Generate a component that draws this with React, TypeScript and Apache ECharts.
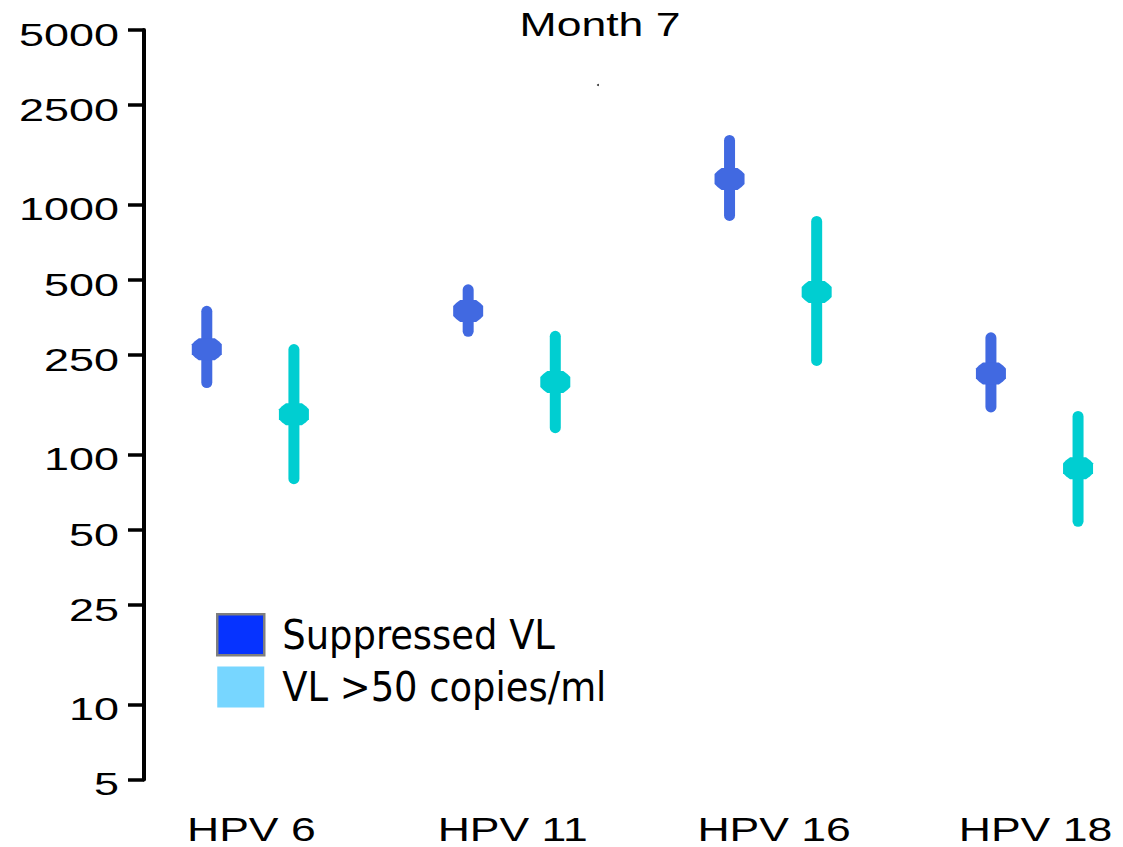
import React, { useEffect, useRef } from "react";
import * as echarts from "echarts";

const categories = ["HPV 6", "HPV 11", "HPV 16", "HPV 18"];
const yTickValues = [5, 10, 25, 50, 100, 250, 500, 1000, 2500, 5000];

const suppressedGMT = [264, 375, 1266, 211];
const suppressedLow = [194, 311, 905, 155];
const suppressedHigh = [374, 456, 1806, 293];

const viremicGMT = [145, 195, 447, 88];
const viremicLow = [80, 128, 238, 54];
const viremicHigh = [263, 297, 856, 142];

const seriesNames = ["Suppressed VL", "VL >50 copies/ml"];
const title = "Month 7";

const LOG = (v: number) => Math.log10(v);
const X_MIN = -0.4069;
const X_MAX = 3.3;
const Y_MIN = LOG(5);
const Y_MAX = LOG(5000);
const ARIAL = "'Liberation Sans', Arial, Helvetica, sans-serif";

function marker(cx: number, cy: number): number[][] {
  const p = [
    [-8, -11], [8, -11], [12, -8], [15, -5], [15, 5], [12, 8],
    [8, 11], [-8, 11], [-12, 8], [-15, 5], [-15, -5], [-12, -8],
  ];
  return p.map(([dx, dy]) => [cx + dx, cy + dy]);
}

function errorSeries(name: string, color: string, offset: number, gmt: number[], low: number[], high: number[]) {
  return {
    type: "custom",
    name,
    clip: false,
    itemStyle: { color },
    encode: { x: 0, y: [1, 2, 3] },
    data: categories.map((_, i) => [i, LOG(low[i]), LOG(high[i]), LOG(gmt[i])]),
    renderItem: (params: any, api: any) => {
      const i = api.value(0);
      const lo = api.coord([i + offset, api.value(1)]);
      const hi = api.coord([i + offset, api.value(2)]);
      const mid = api.coord([i + offset, api.value(3)]);
      return {
        type: "group",
        children: [
          {
            type: "line",
            shape: { x1: hi[0], y1: hi[1], x2: lo[0], y2: lo[1] },
            style: { stroke: color, lineWidth: 11, lineCap: "round" },
          },
          {
            type: "polygon",
            shape: { points: marker(mid[0], mid[1]) },
            style: { fill: color },
          },
        ],
      };
    },
  };
}

export default function App() {
  const ref = useRef<HTMLDivElement>(null);
  useEffect(() => {
    if (!ref.current) return;
    const chart = echarts.init(ref.current, null, { renderer: "svg" });
    const option: any = {
      animation: false,
      backgroundColor: "#ffffff",
      grid: { left: 144, right: 10.1, top: 30, bottom: 67.5 },
      xAxis: {
        type: "value",
        min: X_MIN,
        max: X_MAX,
        axisLine: { show: false, onZero: false },
        axisTick: { show: false },
        axisLabel: { show: false },
        splitLine: { show: false },
      },
      yAxis: {
        type: "value",
        min: Y_MIN,
        max: Y_MAX,
        axisLine: { show: true, onZero: false, lineStyle: { color: "#000", width: 4 } },
        axisTick: {
          show: true,
          customValues: yTickValues.map(LOG),
          length: 16,
          lineStyle: { color: "#000", width: 3.5 },
        },
        axisLabel: { show: false },
        splitLine: { show: false },
      },
      legend: {
        orient: "vertical",
        left: 211,
        top: 608,
        icon: "rect",
        itemWidth: 47,
        itemHeight: 41,
        itemGap: 10,
        selectedMode: false,
        textStyle: {
          fontSize: 41,
          fontFamily: "'DejaVu Sans Condensed', 'DejaVu Sans', sans-serif",
          color: "#000",
          padding: [0, 0, 0, 13],
        },
        data: [
          { name: seriesNames[0], itemStyle: { color: "#0633ff", borderColor: "#7f7f7f", borderWidth: 2.5 } },
          { name: seriesNames[1], itemStyle: { color: "#77d6ff", borderWidth: 0 } },
        ],
      },
      graphic: [
        {
          type: "text",
          x: 600,
          y: 25,
          scaleX: 1.35,
          style: {
            text: title,
            align: "center",
            verticalAlign: "middle",
            fontSize: 33,
            fontFamily: ARIAL,
            fill: "#000",
          },
        },
        { type: "circle", shape: { cx: 598, cy: 85, r: 1 }, style: { fill: "#333" } },
      ],
      series: [
        errorSeries(seriesNames[0], "#4169e1", -1 / 6, suppressedGMT, suppressedLow, suppressedHigh),
        errorSeries(seriesNames[1], "#00ced1", 1 / 6, viremicGMT, viremicLow, viremicHigh),
        {
          type: "custom",
          name: "yLabels",
          clip: false,
          silent: true,
          data: yTickValues.map((v) => [X_MIN, LOG(v), v]),
          encode: { x: 0, y: 1 },
          renderItem: (params: any, api: any) => {
            const c = api.coord([api.value(0), api.value(1)]);
            return {
              type: "text",
              x: c[0] - 25,
              y: c[1] + 5,
              scaleX: 1.45,
              style: {
                text: String(yTickValues[params.dataIndex]),
                align: "right",
                verticalAlign: "middle",
                fontSize: 31,
                fontFamily: ARIAL,
                fill: "#000",
              },
            };
          },
        },
        {
          type: "custom",
          name: "xLabels",
          clip: false,
          silent: true,
          data: categories.map((_, i) => [i, Y_MIN]),
          encode: { x: 0, y: 1 },
          renderItem: (params: any, api: any) => {
            const c = api.coord([api.value(0), api.value(1)]);
            return {
              type: "text",
              x: c[0] + 1,
              y: c[1] + 50.5,
              scaleX: 1.37,
              style: {
                text: categories[params.dataIndex],
                align: "center",
                verticalAlign: "middle",
                fontSize: 32.5,
                fontFamily: ARIAL,
                fill: "#000",
              },
            };
          },
        },
      ],
    };
    chart.setOption(option);
    return () => chart.dispose();
  }, []);
  return (
    <div
      ref={ref}
      style={{ position: "fixed", left: 0, top: 0, width: 1123, height: 847, background: "#fff" }}
    />
  );
}
